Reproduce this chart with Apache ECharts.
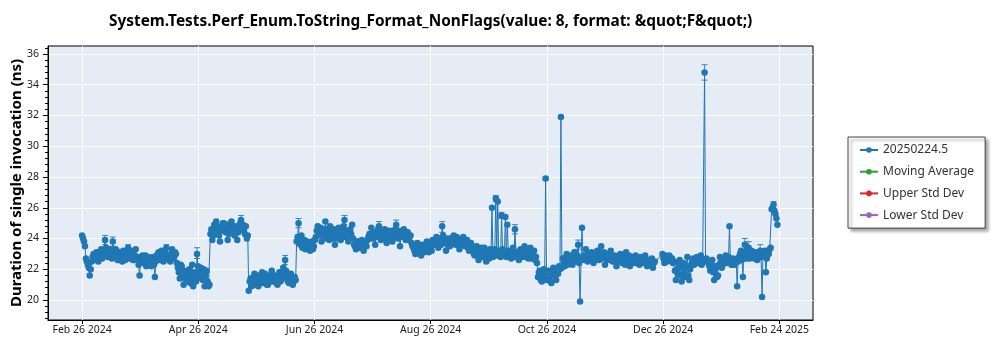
<!DOCTYPE html>
<html><head><meta charset="utf-8">
<script src="https://cdn.jsdelivr.net/npm/echarts@6/dist/echarts.min.js"></script>
<style>html,body{margin:0;padding:0;background:#fff}#c{width:1000px;height:350px}</style>
</head><body><div id="c"></div>
<script>
const titleText = 'System.Tests.Perf_Enum.ToString_Format_NonFlags(value: 8, format: &quot;F&quot;)';
const yAxisName = 'Duration of single invocation (ns)';
const seriesNames = ['20250224.5', 'Moving Average', 'Upper Std Dev', 'Lower Std Dev'];
const seriesColors = ['#1f77b4', '#2ca02c', '#d62728', '#9467bd'];
// x is measured in days since Feb 26 2024
const xTickDays = [0, 60.667, 121.333, 182, 242.667, 303.333, 364];
const xTickLabels = ['Feb 26 2024', 'Apr 26 2024', 'Jun 26 2024', 'Aug 26 2024', 'Oct 26 2024', 'Dec 26 2024', 'Feb 24 2025'];
const yTickValues = [20, 22, 24, 26, 28, 30, 32, 34, 36];
// morning runs, one per day starting Feb 26 2024 (null = no run)
const durationsAM = [
  24.2, 23.8, 22.7, 22.3, 21.6, 22.5, 23.0, 22.7, 23.1, 22.8,
  23.3, 23.0, 23.9, 23.1, 22.9, 23.2, 23.8, 22.9, 23.2, 22.6,
  23.0, 22.5, 23.1, 22.8, 23.4, 22.7, 23.0, 22.6, 23.3, 22.8,
  21.6, 22.7, 22.4, 22.9, 22.3, 22.6, 22.2, 22.8, 21.5, 22.9,
  23.1, 22.6, 23.0, 22.7, 23.4, 22.9, 22.5, 23.3, 22.8, 23.0,
  22.1, 21.4, 22.2, 21.0, 21.6, 21.2, 22.0, 21.4, 20.9, 21.8,
  23.0, 21.5, 22.1, 21.3, 20.9, 21.9, 20.9, 24.3, 23.9, 24.9,
  25.1, 24.6, 23.8, 24.8, 25.0, 24.4, 23.9, 24.7, 25.1, 24.5,
  24.8, 23.9, 24.6, 25.2, 24.9, 24.3, 24.0, 20.6, 21.4, 21.0,
  21.7, 21.2, 20.9, 21.5, 21.8, 21.1, 21.4, 21.0, 21.6, 21.9,
  21.2, 21.5, 21.0, 21.8, 21.3, 22.1, 22.6, 21.4, 21.1, 21.7,
  21.0, 21.5, 23.8, 25.0, 23.6, 23.4, 23.9, 23.5, 23.7, 23.2,
  23.8, 23.5, 24.1, 24.8, 24.3, 23.8, 24.6, 25.1, 24.2, 23.9,
  24.5, 24.0, 23.6, 24.4, 24.7, 23.9, 24.2, 25.2, 24.5, 23.8,
  24.6, 24.9, 23.6, 23.3, 23.8, 23.4, 23.9, 23.2, 23.6, 23.9,
  24.3, 24.7, 24.0, 23.6, 24.4, 24.8, 23.9, 24.2, 24.6, 23.7,
  24.1, 24.5, 23.8, 24.3, 24.9, 24.0, 23.5, 24.2, 24.6, 23.9,
  24.4, 24.1, 23.7, 23.4, 23.0, 23.7, 23.2, 22.9, 23.6, 23.3,
  23.8, 23.1, 23.5, 23.9, 23.6, 24.1, 23.4, 23.9, 24.8, 23.7,
  23.2, 24.0, 23.5, 23.9, 24.2, 23.6, 24.0, 23.3, 23.8, 24.1,
  23.5, 23.9, 23.2, 23.7, 23.4, 22.9, 23.5, 22.6, 23.2, 22.8,
  23.4, 22.5, 23.0, 23.3, 26.0, 23.0, 26.6, 26.4, 23.2, 25.5,
  22.9, 25.4, 24.9, 23.1, 22.7, 23.4, 24.6, 23.0, 22.6, 23.3,
  22.9, 23.5, 23.0, 22.7, 23.4, 22.9, 23.2, 22.8, 21.5, 21.9,
  21.2, 22.0, 27.9, 21.4, 21.8, 21.1, 22.1, 21.6, 21.9, 22.2,
  31.9, 22.7, 22.2, 23.0, 22.5, 22.9, 22.3, 23.1, 22.6, 23.6,
  19.9, 24.7, 22.9, 23.3, 22.5, 22.8, 23.1, 22.4, 22.9, 23.2,
  22.6, 23.5, 22.8, 22.3, 23.0, 22.7, 23.2, 22.5, 22.9, 22.2,
  22.8, 23.0, 22.4, 22.7, 23.1, 22.5, 22.2, 22.8, 22.4, 22.9,
  22.6, 22.3, 22.7, 22.5, 22.9, 22.2, 22.6, 22.4, 22.1, 22.5,
  null, null, null, 23.0, 22.4, 22.6, 22.7, 22.8, 22.7, 22.5,
  21.3, 21.7, 22.6, 21.2, 22.4, 21.5, 22.8, 21.3, 22.3, 22.7,
  22.4, 22.8, 22.5, 22.9, 22.6, 34.8, 22.7, 22.4, 21.9, 22.6,
  21.3, 22.2, 21.6, 22.8, 22.1, 22.5, 22.9, 22.6, 24.8, 22.3,
  22.7, 22.4, 20.9, 22.8, 23.2, 21.5, 23.6, 22.7, 23.4, 22.9,
  23.1, 22.7, 23.0, 22.8, 23.2, 20.2, 22.9, 21.8, 23.1, 23.3,
  25.9, 26.2, 25.6, 24.9
];
// evening runs, half a day after each morning run (null = no run)
const durationsPM = [
  24.0, 23.5, 22.5, 22.1, 22.0, 22.8, 22.6, 23.1, 22.5, 23.0,
  22.7, 23.2, 23.4, 22.8, 23.3, 22.7, 23.0, 23.3, 22.6, 23.1,
  22.8, 23.2, 22.6, 23.0, 22.9, 23.2, 22.6, 22.9, 22.7, 22.3,
  22.4, 22.9, 22.6, 22.2, 22.8, 22.4, 22.7, 22.3, 22.5, 23.0,
  22.7, 23.2, 22.5, 23.1, 22.8, 22.6, 23.0, 22.7, 23.1, 22.4,
  21.8, 22.3, 21.5, 21.9, 21.3, 21.7, 21.1, 22.3, 21.5, 21.2,
  22.2, 21.8, 21.4, 22.0, 21.6, 21.2, 21.0, 24.6, 24.2, 24.5,
  24.8, 24.2, 24.5, 25.0, 24.6, 24.9, 24.3, 25.0, 24.7, 24.2,
  24.5, 24.4, 25.0, 24.7, 24.5, 24.8, 24.2, 21.2, 20.9, 21.5,
  21.0, 21.6, 21.3, 21.1, 21.4, 21.7, 21.0, 21.3, 21.2, 21.5,
  21.6, 21.1, 21.4, 21.2, 21.7, 21.5, 21.9, 21.2, 21.6, 21.3,
  21.2, 21.3, 24.1, 23.7, 24.2, 23.6, 23.3, 23.8, 23.4, 23.6,
  23.3, 23.9, 24.5, 24.2, 24.7, 24.4, 24.0, 24.6, 24.3, 24.8,
  24.2, 24.6, 24.3, 24.0, 24.2, 24.5, 24.8, 24.1, 24.2, 24.4,
  24.3, 24.0, 23.5, 23.8, 23.5, 23.7, 23.4, 23.8, 23.5, 24.1,
  24.0, 24.2, 24.4, 24.1, 24.6, 24.2, 24.4, 24.0, 24.3, 24.5,
  24.4, 24.0, 24.2, 24.6, 24.3, 24.5, 24.1, 24.4, 24.1, 24.3,
  23.9, 24.2, 23.5, 23.2, 23.5, 23.1, 23.6, 23.4, 23.1, 23.5,
  23.4, 23.7, 23.2, 23.8, 23.7, 23.9, 24.0, 23.6, 24.2, 23.9,
  23.7, 23.6, 24.0, 23.7, 23.8, 24.1, 23.7, 23.9, 23.6, 23.7,
  23.8, 23.4, 23.6, 23.3, 23.0, 23.3, 23.0, 22.9, 23.4, 23.1,
  22.8, 23.2, 22.7, 23.0, 22.8, 23.3, 22.9, 23.0, 22.8, 23.3,
  23.1, 22.8, 23.2, 22.9, 23.2, 22.8, 23.1, 22.9, 23.2, 22.8,
  23.2, 22.8, 23.3, 23.0, 22.7, 23.1, 22.6, 22.4, 21.8, 21.3,
  21.7, 21.5, 21.3, 21.9, 21.2, 21.6, 21.8, 21.3, 21.7, 22.0,
  22.1, 22.4, 22.8, 22.3, 22.7, 22.4, 22.8, 22.5, 22.9, 22.4,
  22.6, 22.8, 22.6, 22.9, 23.0, 22.6, 22.7, 23.0, 22.6, 22.8,
  23.0, 22.7, 23.1, 22.9, 22.6, 23.0, 22.8, 22.6, 22.5, 22.8,
  22.5, 22.6, 22.9, 22.3, 22.6, 22.9, 22.5, 22.6, 22.7, 22.4,
  22.5, 22.8, 22.4, 22.7, 22.4, 22.6, 22.3, 22.7, 22.4, null,
  null, null, null, 22.7, 22.9, 22.5, 22.9, 22.6, 22.4, 21.9,
  22.0, 22.3, 21.6, 22.1, 21.8, 22.2, 21.6, 22.0, 22.5, 22.3,
  22.7, 22.4, 22.7, 22.3, 22.5, 22.6, 22.5, 22.2, 22.4, 21.8,
  22.0, 21.5, 22.3, 22.5, 22.3, 22.7, 22.4, 22.8, 22.5, 22.6,
  22.3, 22.6, 22.5, 23.0, 22.6, 22.9, 23.1, 23.0, 22.7, 23.2,
  22.9, 23.1, 22.6, 23.0, 22.8, 22.9, 23.2, 22.7, 23.0, 23.4,
  26.0, 25.8, 25.3
];
// visible error bars: [day, low, high]
const errorBars = [
  [12, 23.6, 24.2], [16, 23.5, 24.1], [24, 23.1, 23.6], [44, 23.1, 23.6],
  [60, 22.7, 23.4], [83, 24.9, 25.5], [106, 22.3, 22.9], [113, 24.7, 25.3],
  [137, 24.9, 25.5], [155, 24.5, 25.1], [164, 24.6, 25.2], [188, 24.4, 25.1],
  [216, 26.4, 26.8], [219, 25.3, 25.7], [226, 24.3, 24.9], [242, 27.8, 28.0],
  [250, 31.8, 32.0], [259, 23.3, 23.9], [325, 34.3, 35.3], [346, 23.3, 24.0],
  [348, 23.1, 23.8], [354, 22.9, 23.6], [361, 25.9, 26.4]
];

const FONT = 'Noto Sans';
const minorTicks = [];
for (let k = 0; k <= 44; k++) minorTicks.push(Math.round((18.8 + 0.4 * k) * 10) / 10);

const mainData = [];
for (let i = 0; i < durationsAM.length; i++) {
  mainData.push([i, durationsAM[i]]);
  if (i < durationsPM.length) mainData.push([i + 0.5, durationsPM[i]]);
}

const chart = echarts.init(document.getElementById('c'), null, {renderer: 'canvas'});
const option = {
  animation: false,
  backgroundColor: '#fff',
  title: {
    text: titleText, left: 104, top: 9,
    textStyle: {fontSize: 15.4, fontWeight: 'bold', color: '#000', fontFamily: FONT}
  },
  legend: {
    data: seriesNames, orient: 'vertical', left: 848, top: 137,
    itemWidth: 18, itemHeight: 7, itemGap: 7.7, padding: [6, 11, 6, 11],
    backgroundColor: '#fff', borderColor: '#444', borderWidth: 1,
    shadowColor: 'rgba(0,0,0,0.4)', shadowBlur: 3, shadowOffsetX: 3, shadowOffsetY: 3,
    textStyle: {fontSize: 12, color: '#333', fontFamily: FONT, lineHeight: 14}
  },
  grid: {left: 48, right: 187, top: 46, bottom: 30, outerBoundsMode: 'none', containLabel: false,
    show: true, backgroundColor: '#e5ecf6', borderColor: '#000', borderWidth: 1},
  xAxis: {
    type: 'value', min: -17.8, max: 381.6,
    axisLine: {show: true, onZero: false, lineStyle: {color: '#000'}},
    axisTick: {show: true, customValues: xTickDays, length: 4, lineStyle: {color: '#000'}},
    axisLabel: {
      customValues: xTickDays, margin: 5, fontSize: 10.5, color: '#222', fontFamily: FONT,
      formatter: function (v) {
        for (let i = 0; i < xTickDays.length; i++) if (Math.abs(xTickDays[i] - v) < 0.01) return xTickLabels[i];
        return '';
      }
    },
    splitLine: {show: true, lineStyle: {color: '#fff', width: 1}}
  },
  yAxis: [{
    type: 'value', min: 18.7, max: 36.52,
    name: yAxisName, nameLocation: 'middle', nameGap: 24, nameMoveOverlap: false,
    nameTextStyle: {fontSize: 15, fontWeight: 'bold', color: '#000', fontFamily: FONT},
    axisLine: {show: true, onZero: false, lineStyle: {color: '#000'}},
    axisTick: {show: true, customValues: yTickValues, length: 5, lineStyle: {color: '#000'}},
    axisLabel: {customValues: yTickValues, margin: 9, fontSize: 10.5, color: '#222', fontFamily: FONT},
    splitLine: {show: true, lineStyle: {color: '#fff', width: 1}}
  }, {
    type: 'value', min: 18.7, max: 36.52, position: 'left', offset: 0,
    axisLine: {show: false, onZero: false},
    axisTick: {show: true, customValues: minorTicks, length: 3, lineStyle: {color: '#000'}},
    axisLabel: {show: false},
    splitLine: {show: false}
  }],
  series: [
    {
      type: 'custom', xAxisIndex: 0, yAxisIndex: 0, z: 2,
      data: errorBars,
      renderItem: function (params, api) {
        const top = api.coord([api.value(0), api.value(2)]);
        const bot = api.coord([api.value(0), api.value(1)]);
        const s = {stroke: seriesColors[0], lineWidth: 1, opacity: 0.85};
        return {type: 'group', children: [
          {type: 'line', shape: {x1: top[0], y1: top[1], x2: bot[0], y2: bot[1]}, style: s},
          {type: 'line', shape: {x1: top[0] - 3, y1: top[1], x2: top[0] + 3, y2: top[1]}, style: s},
          {type: 'line', shape: {x1: bot[0] - 3, y1: bot[1], x2: bot[0] + 3, y2: bot[1]}, style: s}
        ]};
      }
    },
    {
      name: seriesNames[0], type: 'line', data: mainData, connectNulls: true,
      symbol: 'circle', symbolSize: 6.5, z: 3,
      itemStyle: {color: seriesColors[0]}, lineStyle: {color: seriesColors[0], width: 1}
    },
    {name: seriesNames[1], type: 'line', data: [], symbol: 'circle', itemStyle: {color: seriesColors[1]}, lineStyle: {color: seriesColors[1], width: 1}},
    {name: seriesNames[2], type: 'line', data: [], symbol: 'circle', itemStyle: {color: seriesColors[2]}, lineStyle: {color: seriesColors[2], width: 1}},
    {name: seriesNames[3], type: 'line', data: [], symbol: 'circle', itemStyle: {color: seriesColors[3]}, lineStyle: {color: seriesColors[3], width: 1}}
  ]
};
chart.setOption(option);
</script>
</body></html>
